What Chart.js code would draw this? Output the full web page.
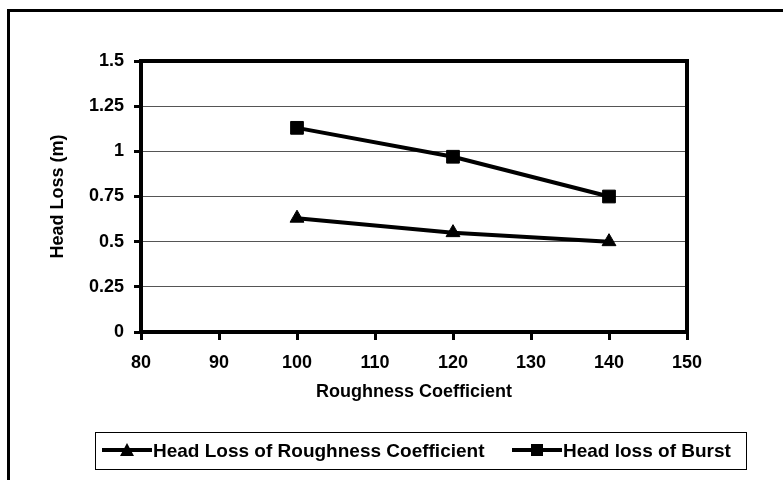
<!DOCTYPE html>
<html>
<head>
<meta charset="utf-8">
<script src="https://cdn.jsdelivr.net/npm/chart.js@4"></script>
<style>
  body { margin: 0; background: #fff; }
  canvas { display: block; }
</style>
</head>
<body>
<canvas id="chart" width="783" height="480"></canvas>
<script>
// data
const roughness = [100, 120, 140];
const headLossRoughness = [0.63, 0.55, 0.50];
const headLossBurst = [1.13, 0.97, 0.75];
const seriesNames = ["Head Loss of Roughness Coefficient", "Head loss of Burst"];
const yTickLabels = ["0", "0.25", "0.5", "0.75", "1", "1.25", "1.5"];

const FONT = "'Liberation Sans', Arial, sans-serif";
Chart.defaults.font.family = FONT;
Chart.defaults.font.weight = "bold";
Chart.defaults.color = "#000";

const toPoints = ys => roughness.map((x, i) => ({ x: x, y: ys[i] }));

// outer frame, plot frame and the boxed legend under the axis title
const framePlugin = {
  id: "frame",
  beforeDraw(chart) {
    const ctx = chart.ctx;
    ctx.save();
    ctx.fillStyle = "#fff";
    ctx.fillRect(0, 0, chart.width, chart.height);
    ctx.strokeStyle = "#000";
    ctx.lineWidth = 3;
    ctx.strokeRect(8.5, 10.5, 900, 900);
    ctx.restore();
  },
  afterDatasetsDraw(chart) {
    const ctx = chart.ctx;
    const a = chart.chartArea;
    ctx.save();
    ctx.strokeStyle = "#000";
    ctx.lineWidth = 4;
    ctx.strokeRect(a.left, a.top, a.right - a.left, a.bottom - a.top);
    ctx.restore();
  },
  afterDraw(chart) {
    const ctx = chart.ctx;
    ctx.save();
    ctx.strokeStyle = "#000";
    ctx.lineWidth = 1;
    ctx.strokeRect(95.5, 432.5, 651, 37);

    const y = 450;
    const items = [
      { x0: 102, style: "triangle", text: seriesNames[0] },
      { x0: 512, style: "rect", text: seriesNames[1] }
    ];
    items.forEach(it => {
      ctx.strokeStyle = "#000";
      ctx.lineWidth = 4;
      ctx.beginPath();
      ctx.moveTo(it.x0, y);
      ctx.lineTo(it.x0 + 50, y);
      ctx.stroke();
      const cx = it.x0 + 25;
      ctx.fillStyle = "#000";
      ctx.beginPath();
      if (it.style === "triangle") {
        ctx.moveTo(cx, y - 7);
        ctx.lineTo(cx + 7, y + 6);
        ctx.lineTo(cx - 7, y + 6);
        ctx.closePath();
      } else {
        ctx.rect(cx - 6, y - 6, 12, 12);
      }
      ctx.fill();
      ctx.font = "bold 19px " + FONT;
      ctx.textBaseline = "middle";
      ctx.textAlign = "left";
      ctx.fillText(it.text, it.x0 + 51, y + 2);
    });
    ctx.restore();
  }
};

new Chart(document.getElementById("chart").getContext("2d"), {
  type: "line",
  data: {
    datasets: [
      {
        label: seriesNames[0],
        data: toPoints(headLossRoughness),
        borderColor: "#000",
        backgroundColor: "#000",
        borderWidth: 4,
        pointStyle: "triangle",
        pointRadius: 8,
        pointBorderWidth: 1,
        tension: 0
      },
      {
        label: seriesNames[1],
        data: toPoints(headLossBurst),
        borderColor: "#000",
        backgroundColor: "#000",
        borderWidth: 4,
        pointStyle: "rect",
        pointRadius: 9,
        pointBorderWidth: 1,
        tension: 0
      }
    ]
  },
  options: {
    responsive: false,
    animation: false,
    devicePixelRatio: 1,
    layout: { padding: { left: 0, top: 61, right: 96, bottom: 0 } },
    plugins: {
      legend: { display: false },
      tooltip: { enabled: false }
    },
    scales: {
      x: {
        type: "linear",
        min: 80,
        max: 150,
        afterFit: s => { s.height = 148; },
        ticks: { stepSize: 10, padding: 12, font: { size: 18, weight: "bold" }, color: "#000" },
        grid: { drawOnChartArea: false, drawTicks: true, tickLength: 8, tickColor: "#000", tickWidth: 3 },
        border: { display: true, color: "#000", width: 4 },
        title: {
          display: true,
          text: "Roughness Coefficient",
          font: { size: 18, weight: "bold" },
          color: "#000",
          padding: { top: 0, bottom: 77 }
        }
      },
      y: {
        min: 0,
        max: 1.5,
        afterFit: s => { s.width = 141; },
        afterBuildTicks: s => { s.ticks = yTickLabels.map(v => ({ value: Number(v) })); },
        ticks: {
          padding: 10,
          font: { size: 18, weight: "bold" },
          color: "#000",
          callback: (v, i) => yTickLabels[i]
        },
        grid: { color: "#555", lineWidth: 1, tickLength: 7, tickColor: "#000", tickWidth: 3 },
        border: { display: true, color: "#000", width: 4 },
        title: {
          display: true,
          text: "Head Loss (m)",
          font: { size: 18, weight: "bold" },
          color: "#000",
          padding: { top: 47, bottom: 0 }
        }
      }
    }
  },
  plugins: [framePlugin]
});
</script>
</body>
</html>
